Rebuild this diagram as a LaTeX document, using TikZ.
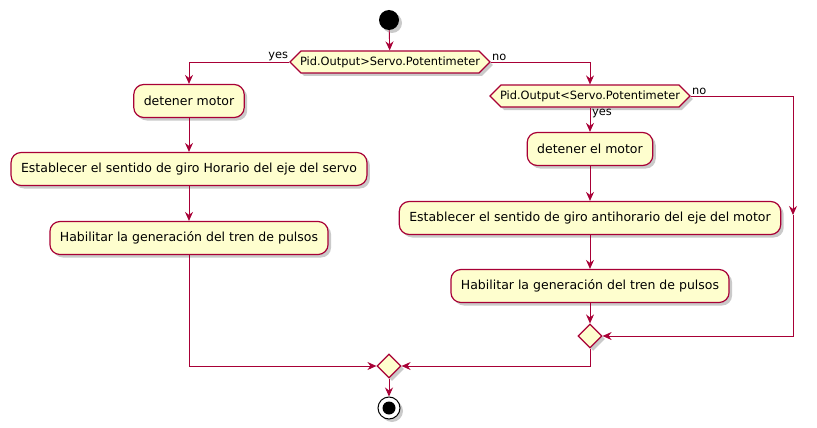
\documentclass[tikz,border=0pt]{standalone}
\usepackage{fontspec}
\setmainfont{DejaVu Sans}
\usetikzlibrary{shapes.geometric,shapes.symbols,shadows,arrows.meta}
\definecolor{borde}{HTML}{A80036}
\definecolor{relleno}{HTML}{FEFECE}
\begin{document}
\begin{tikzpicture}[
    x=1pt, y=-1pt,
    font=\fontsize{12.5}{14}\selectfont,
    sombra/.style={drop shadow={shadow xshift=3pt, shadow yshift=-3pt, opacity=0.35, fill=black!60}},
    accion/.style={rectangle, rounded corners=10pt, draw=borde, fill=relleno, line width=1.2pt, minimum height=33pt, inner xsep=10pt, sombra},
    decision/.style={signal, signal to=west and east, draw=borde, fill=relleno, line width=1.2pt, minimum height=22pt, inner xsep=-1pt, inner ysep=0pt, font=\fontsize{11.4}{13}\selectfont, sombra},
    union/.style={diamond, draw=borde, fill=relleno, line width=1.2pt, minimum size=24pt, inner sep=0pt, sombra},
    flecha/.style={draw=borde, line width=0.9pt, -{Stealth[length=9pt, width=8pt, inset=3pt]}},
    etiqueta/.style={font=\fontsize{11.4}{13}\selectfont, inner sep=1pt}
]
\useasboundingbox (0,0) rectangle (817,428);

% ============================================
% INICIO Y PRIMERA DECISION
% ============================================
\node[circle, fill=black, minimum size=20pt, inner sep=0, sombra] (inicio) at (389,20) {};
\node[decision] (dec1) at (390,62) {Pid.Output>Servo.Potentimeter};
\node[etiqueta, anchor=south east] (si1) at (dec1.west) {yes};
\node[etiqueta, anchor=south west] (no1) at (dec1.east) {no};

% ============================================
% RAMA YES: GIRO HORARIO
% ============================================
\node[accion] (det1) at (189,101) {detener motor};
\node[accion] (est1) at (189,169) {Establecer el sentido de giro Horario del eje del servo};
\node[accion] (hab1) at (189,238) {Habilitar la generación del tren de pulsos};

% ============================================
% RAMA NO: SEGUNDA DECISION
% ============================================
\node[decision] (dec2) at (590,96) {Pid.Output<Servo.Potentimeter};
\node[etiqueta, anchor=south west] (no2) at (dec2.east) {no};
\node[etiqueta, anchor=north west, xshift=1pt] (si2) at (dec2.south) {yes};

\node[accion] (det2) at (590,149) {detener el motor};
\node[accion] (est2) at (590,218) {Establecer el sentido de giro antihorario del eje del motor};
\node[accion] (hab2) at (590,286) {Habilitar la generación del tren de pulsos};

% ============================================
% UNIONES Y FIN
% ============================================
\node[union] (une1) at (590,336) {};
\node[union] (une2) at (389,366) {};
\node[circle, draw=black, fill=white, line width=1pt, minimum size=22pt, inner sep=0, sombra,
      path picture={\fill[black] (path picture bounding box.center) circle (6.5pt);}] (fin) at (389,408) {};

\coordinate (codo) at (793,96);
\coordinate (mitad) at (793,215);

% Conectores
\draw[flecha] (inicio) -- (dec1);
\draw[flecha] (dec1.west) -| (det1.north);
\draw[flecha] (dec1.east) -| (dec2.north);
\draw[flecha] (det1) -- (est1);
\draw[flecha] (est1) -- (hab1);
\draw[flecha] (hab1.south) |- (une2.west);
\draw[flecha] (dec2.south) -- (det2.north);
\draw[flecha] (det2) -- (est2);
\draw[flecha] (est2) -- (hab2);
\draw[flecha] (hab2) -- (une1);
\draw[flecha] (dec2.east) -- (codo) -- (mitad);
\draw[flecha] (mitad) |- (une1.east);
\draw[flecha] (une1.south) |- (une2.east);
\draw[flecha] (une2) -- (fin);

\end{tikzpicture}
\end{document}
